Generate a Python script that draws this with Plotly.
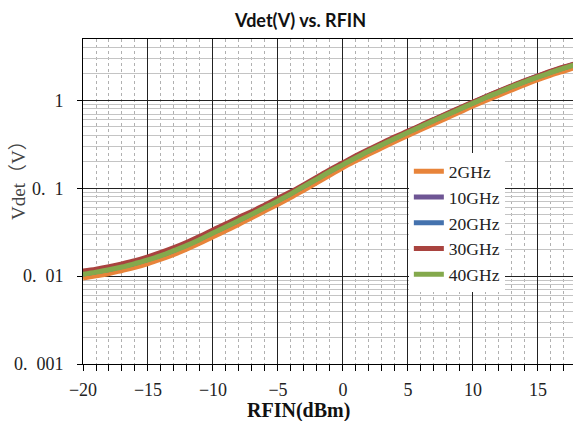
import plotly.graph_objects as go

rfin_dbm = list(range(-20, 19))

vdet_2ghz = [0.0095, 0.0101, 0.0107, 0.0116, 0.0126, 0.0139, 0.0156, 0.0177, 0.0204, 0.0238,
             0.0281, 0.0330, 0.0390, 0.0465, 0.0553, 0.0658, 0.0790, 0.0956, 0.116, 0.141,
             0.172, 0.206, 0.245, 0.289, 0.340, 0.398, 0.466, 0.544, 0.633, 0.737,
             0.863, 1.00, 1.15, 1.32, 1.51, 1.72, 1.94, 2.16, 2.40]
vdet_10ghz = [0.0107, 0.0113, 0.0121, 0.0130, 0.0141, 0.0156, 0.0175, 0.0198, 0.0229, 0.0268,
              0.0316, 0.0371, 0.0438, 0.0518, 0.0616, 0.0734, 0.0880, 0.107, 0.130, 0.158,
              0.190, 0.228, 0.271, 0.320, 0.375, 0.440, 0.515, 0.601, 0.700, 0.814,
              0.948, 1.10, 1.27, 1.45, 1.66, 1.89, 2.13, 2.37, 2.63]
vdet_20ghz = [0.0106, 0.0112, 0.0119, 0.0129, 0.0140, 0.0155, 0.0173, 0.0196, 0.0227, 0.0265,
              0.0313, 0.0368, 0.0434, 0.0513, 0.0610, 0.0727, 0.0872, 0.106, 0.128, 0.156,
              0.188, 0.226, 0.268, 0.316, 0.372, 0.436, 0.510, 0.595, 0.693, 0.806,
              0.938, 1.09, 1.25, 1.44, 1.65, 1.87, 2.10, 2.35, 2.61]
vdet_30ghz = [0.0114, 0.0120, 0.0128, 0.0138, 0.0150, 0.0166, 0.0186, 0.0211, 0.0243, 0.0284,
              0.0336, 0.0394, 0.0466, 0.0544, 0.0646, 0.0770, 0.0911, 0.110, 0.134, 0.163,
              0.195, 0.234, 0.278, 0.328, 0.385, 0.447, 0.522, 0.609, 0.710, 0.826,
              0.957, 1.11, 1.28, 1.47, 1.68, 1.90, 2.15, 2.40, 2.66]
vdet_40ghz = [0.0105, 0.0111, 0.0118, 0.0127, 0.0139, 0.0153, 0.0171, 0.0195, 0.0224, 0.0262,
              0.0310, 0.0364, 0.0430, 0.0508, 0.0604, 0.0719, 0.0863, 0.105, 0.127, 0.155,
              0.186, 0.223, 0.266, 0.313, 0.368, 0.432, 0.505, 0.589, 0.686, 0.798,
              0.929, 1.08, 1.24, 1.43, 1.63, 1.85, 2.08, 2.33, 2.58]

series_names = ["2GHz", "10GHz", "20GHz", "30GHz", "40GHz"]
series_values = [vdet_2ghz, vdet_10ghz, vdet_20ghz, vdet_30ghz, vdet_40ghz]
series_colors = ["#E8843A", "#6E5594", "#4472AE", "#A9433F", "#84A94C"]

y_tick_vals = [0.001, 0.01, 0.1, 1]
y_tick_text = ["0.\u2002001", "0.\u200201", "0.\u20021", "1"]
y_minor_vals = [m * d for d in (0.001, 0.01, 0.1, 1) for m in range(2, 10)]

fig = go.Figure()
for name, vals, col in zip(series_names, series_values, series_colors):
    fig.add_trace(go.Scatter(x=rfin_dbm, y=vals, name=name, mode="lines",
                             line=dict(color=col, width=5, shape="spline")))

serif = "Liberation Serif, Noto Sans CJK SC, serif"

fig.update_layout(
    width=573, height=421,
    margin=dict(l=83, r=0, t=39, b=57, autoexpand=False),
    paper_bgcolor="white", plot_bgcolor="white",
    showlegend=True,
    legend=dict(x=0.665, y=0.648, xanchor="left", yanchor="top",
                bgcolor="white", borderwidth=0, tracegroupgap=0,
                font=dict(family=serif, size=17.5, color="#222")),
    annotations=[
        dict(text="<b>Vdet(V) vs. RFIN</b>", xref="paper", yref="paper",
             x=0.443, y=1.058, xanchor="center", yanchor="middle", showarrow=False,
             font=dict(family="Lato, Open Sans, sans-serif", size=18, color="#111")),
        dict(text="<b>RFIN(dBm)</b>", xref="paper", yref="paper",
             x=0.439, y=-0.1445, xanchor="center", yanchor="middle", showarrow=False,
             font=dict(family=serif, size=20, color="#111")),
        dict(text="Vdet（V）", xref="paper", yref="paper", textangle=-90,
             x=-0.1327, y=0.5815, xanchor="center", yanchor="middle", showarrow=False,
             font=dict(family=serif, size=19, color="#444")),
    ],
)

fig.update_xaxes(
    range=[-20, 17.7], tick0=0, dtick=5, automargin=False,
    showgrid=True, gridcolor="#222", gridwidth=1,
    showline=True, linecolor="#000", linewidth=1, mirror=True,
    ticks="outside", ticklen=6, tickcolor="#000",
    tickfont=dict(family=serif, size=18, color="#222"),
    ticklabelstandoff=3,
    zeroline=False,
    minor=dict(dtick=1, ticks="outside", ticklen=6, tickcolor="#000",
               showgrid=True, gridcolor="#b0b0b0", griddash="dot", gridwidth=1),
)

fig.update_yaxes(
    type="log", range=[-3, 0.699], automargin=False,
    tickmode="array", tickvals=y_tick_vals, ticktext=y_tick_text,
    showgrid=True, gridcolor="#222", gridwidth=1,
    showline=True, linecolor="#000", linewidth=1, mirror=False,
    ticks="outside", ticklen=5, tickcolor="#000",
    tickfont=dict(family=serif, size=18, color="#222"),
    ticklabelstandoff=10,
    zeroline=False,
    minor=dict(tickmode="array", tickvals=y_minor_vals, ticks="",
               showgrid=True, gridcolor="#c4c4c4", gridwidth=1),
)

fig.write_html("out.html", config={"displayModeBar": False},
               post_script="document.body.style.margin='0';document.body.style.overflow='hidden';")
